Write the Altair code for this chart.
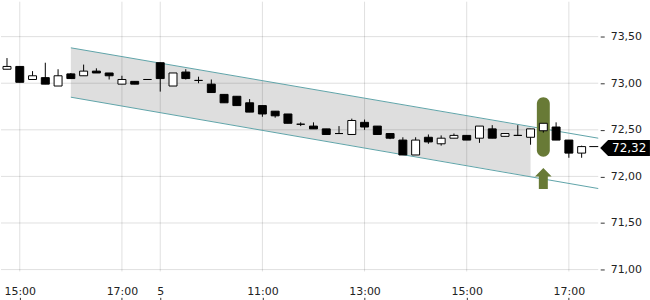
import altair as alt
import pandas as pd

# ---------------- data ----------------
candle_idx = list(range(46))
opens = [73.15, 73.18, 73.04, 73.06, 72.97, 73.10, 73.08, 73.13, 73.11, 72.99,
         73.02, 73.04, 73.22, 72.97, 73.12, 73.03, 72.99, 72.88, 72.86, 72.79,
         72.76, 72.70, 72.67, 72.56, 72.54, 72.51, 72.46, 72.45, 72.58, 72.54,
         72.46, 72.39, 72.23, 72.42, 72.35, 72.41, 72.44, 72.41, 72.51, 72.43,
         72.44, 72.42, 72.49, 72.53, 72.39, 72.25]
highs = [73.27, 73.18, 73.13, 73.22, 73.15, 73.11, 73.20, 73.16, 73.11, 73.08,
         73.02, 73.04, 73.22, 73.11, 73.15, 73.07, 73.04, 72.88, 72.86, 72.83,
         72.76, 72.70, 72.67, 72.58, 72.58, 72.51, 72.54, 72.62, 72.61, 72.54,
         72.46, 72.42, 72.42, 72.45, 72.44, 72.46, 72.44, 72.54, 72.55, 72.46,
         72.55, 72.51, 72.57, 72.58, 72.39, 72.33]
lows = [73.15, 73.01, 73.04, 72.99, 72.97, 73.05, 73.08, 73.11, 73.04, 72.99,
        72.99, 73.04, 72.91, 72.97, 73.04, 73.00, 72.90, 72.79, 72.76, 72.69,
        72.64, 72.63, 72.57, 72.54, 72.51, 72.45, 72.46, 72.45, 72.50, 72.45,
        72.40, 72.23, 72.23, 72.35, 72.33, 72.41, 72.39, 72.36, 72.41, 72.43,
        72.44, 72.34, 72.47, 72.39, 72.20, 72.20]
closes = [73.18, 73.01, 73.08, 72.99, 73.08, 73.05, 73.13, 73.11, 73.08, 73.04,
          72.99, 73.04, 73.05, 73.11, 73.05, 73.03, 72.90, 72.79, 72.76, 72.69,
          72.67, 72.65, 72.57, 72.56, 72.51, 72.45, 72.46, 72.60, 72.53, 72.45,
          72.41, 72.23, 72.39, 72.37, 72.41, 72.44, 72.39, 72.54, 72.41, 72.46,
          72.44, 72.51, 72.57, 72.39, 72.25, 72.32]

x_tick_idx = [1, 9, 12, 20, 28, 36, 44]
x_tick_labels = ["15:00", "17:00", "5", "11:00", "13:00", "15:00", "17:00"]
y_ticks = [71.0, 71.5, 72.0, 72.5, 73.0, 73.5]

channel_fill_idx = [5, 41]
channel_fill_upper = [73.38, 72.53]
channel_fill_lower = [72.85, 72.00]
channel_line_idx = [5, 46.3]
channel_line_upper = [73.38, 72.41]
channel_line_lower = [72.85, 71.87]

signal_idx = [42]
signal_top = [72.85]
signal_bottom = [72.21]
arrow_level = [72.0]

last_price = [72.32]
last_price_label = ["72,32"]
price_line_idx = [45.6]
price_line_idx_end = [46.3]
label_box_idx = [48.4]
label_text_idx = [48.72]

X_DOMAIN = [-0.47, 46.3]
Y_DOMAIN = [70.98, 73.875]

# ---------------- styling ----------------
FONT = "DejaVu Sans"
GREEN = "#687a36"
TEAL = "#5fa3a8"
GRID = "#000000"

label_expr = ""
for v, t in zip(x_tick_idx, x_tick_labels):
    label_expr += f"datum.value == {v} ? '{t}' : "
label_expr += "''"

x_axis = alt.Axis(values=x_tick_idx, labelExpr=label_expr, grid=False, domain=False,
                  ticks=True, tickSize=4, tickColor="#333333", offset=26,
                  labelPadding=-16, labelFont=FONT, labelFontSize=11,
                  labelColor="#222222", title=None, labelFlush=False,
                  labelOverlap=False)
y_axis = alt.Axis(orient="right", values=y_ticks,
                  labelExpr="replace(format(datum.value, '.2f'), '.', ',')",
                  grid=False, domain=False, tickSize=4, tickColor="#333333",
                  offset=2, labelPadding=6, labelFont=FONT, labelFontSize=11,
                  labelColor="#222222", title=None, labelFlush=False,
                  labelOverlap=False)

xs = alt.Scale(domain=X_DOMAIN, nice=False, zero=False, padding=0)
ys = alt.Scale(domain=Y_DOMAIN, nice=False, zero=False, padding=0)


def X(field):
    return alt.X(field, type="quantitative", scale=xs, axis=x_axis)


def Y(field):
    return alt.Y(field, type="quantitative", scale=ys, axis=y_axis)


# ---------------- tables ----------------
candles = pd.DataFrame({"x": candle_idx, "o": opens, "h": highs, "l": lows, "c": closes})
candles["fill"] = ["#ffffff" if c > o else "#000000" for o, c in zip(opens, closes)]

fill_df = pd.DataFrame({"x": channel_fill_idx, "u": channel_fill_upper, "lo": channel_fill_lower})
line_df = pd.DataFrame({"x": channel_line_idx, "u": channel_line_upper, "lo": channel_line_lower})
hgrid = pd.DataFrame({"y": y_ticks, "x": [X_DOMAIN[0]] * len(y_ticks), "x2": [X_DOMAIN[1]] * len(y_ticks)})
vgrid = pd.DataFrame({"x": x_tick_idx, "y": [Y_DOMAIN[0]] * len(x_tick_idx), "y2": [Y_DOMAIN[1]] * len(x_tick_idx)})
signal_df = pd.DataFrame({"x": signal_idx, "t": signal_top, "b": signal_bottom, "a": arrow_level})
price_df = pd.DataFrame({"x": price_line_idx, "x2": price_line_idx_end, "y": last_price,
                         "bx": label_box_idx, "tx": label_text_idx, "label": last_price_label})

# ---------------- layers ----------------
area = alt.Chart(fill_df).mark_area(color="#dedede", opacity=1).encode(
    x=X("x"), y=Y("u"), y2="lo")

grid_h = alt.Chart(hgrid).mark_rule(color=GRID, strokeOpacity=0.13, strokeWidth=1).encode(
    x=X("x"), x2="x2", y=Y("y"))
grid_v = alt.Chart(vgrid).mark_rule(color=GRID, strokeOpacity=0.13, strokeWidth=1).encode(
    x=X("x"), y=Y("y"), y2="y2")

upper_line = alt.Chart(line_df).mark_line(color=TEAL, strokeWidth=1).encode(x=X("x"), y=Y("u"))
lower_line = alt.Chart(line_df).mark_line(color=TEAL, strokeWidth=1).encode(x=X("x"), y=Y("lo"))

pill = alt.Chart(signal_df).mark_bar(color=GREEN, size=13, cornerRadius=6.5).encode(
    x=X("x"), y=Y("t"), y2="b")

ARROW = "M 0 -1 L 1 0 L 0.54 0 L 0.54 1.52 L -0.54 1.52 L -0.54 0 L -1 0 Z"
arrow = alt.Chart(signal_df).mark_point(shape=ARROW, size=279, filled=True, color=GREEN,
                                        opacity=1, strokeWidth=0).encode(
    x=X("x"), y=Y("a"))

wicks = alt.Chart(candles).mark_rule(color="#000000", strokeWidth=1).encode(
    x=X("x"), y=Y("l"), y2="h")
bodies = alt.Chart(candles).mark_bar(size=8, stroke="#000000", strokeWidth=1).encode(
    x=X("x"), y=Y("o"), y2="c", fill=alt.Fill("fill:N", scale=None))

price_line = alt.Chart(price_df).mark_rule(color="#000000", strokeWidth=1).encode(
    x=X("x"), x2="x2", y=Y("y"))

BOX = "M -1 0 L -0.68 -0.32 L 1 -0.32 L 1 0.32 L -0.68 0.32 Z"
label_box = alt.Chart(price_df).mark_point(shape=BOX, size=2500, filled=True, color="#000000",
                                           opacity=1, strokeWidth=0, yOffset=1.5).encode(
    x=X("bx"), y=Y("y"))
label_text = alt.Chart(price_df).mark_text(color="#ffffff", font=FONT, fontSize=12,
                                           align="center", baseline="middle", dy=1.5).encode(
    x=X("tx"), y=Y("y"), text="label:N")

chart = alt.layer(
    area, grid_h, grid_v, upper_line, lower_line, pill, arrow,
    wicks, bodies, price_line, label_box, label_text
).properties(
    width=600, height=271, padding=0, background="#ffffff"
).configure_view(stroke=None)

chart.save("out.html", embed_options={"renderer": "svg", "actions": False})
